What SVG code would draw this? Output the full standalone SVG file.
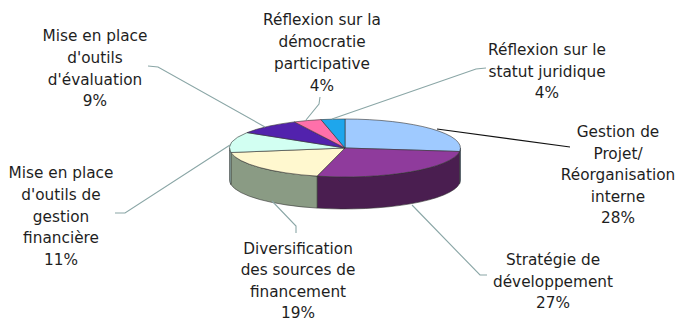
<svg xmlns="http://www.w3.org/2000/svg" width="677" height="322" viewBox="0 0 677 322">
<style>
text{font-family:"DejaVu Sans","Verdana",sans-serif;font-size:15.3px;fill:#1e1e1e;text-anchor:middle}
.sl{stroke:#333;stroke-width:0.6;stroke-linejoin:round}
.ld{fill:none;stroke:#8aa6a6;stroke-width:1.1}
.ldk{fill:none;stroke:#111;stroke-width:1.1}
</style>
<rect width="677" height="322" fill="#fff"/>
<g id="pie">
<path class="sl" fill="#5f8fc0" d="M460.5,148 A115.5,29 0 0 1 459.6,151.5 L459.6,183.5 A115.5,29 0 0 0 460.5,180 Z"/>
<path class="sl" fill="#4a1e50" d="M459.6,151.5 A115.5,29 0 0 1 317.1,176.1 L317.1,208.1 A115.5,29 0 0 0 459.6,183.5 Z"/>
<path class="sl" fill="#8a9b84" d="M317.1,176.1 A115.5,29 0 0 1 230.9,152.5 L230.9,184.5 A115.5,29 0 0 0 317.1,208.1 Z"/>
<path class="sl" fill="#9fc4bd" d="M230.9,152.5 A115.5,29 0 0 1 229.5,148 L229.5,180 A115.5,29 0 0 0 230.9,184.5 Z"/>
<path class="sl" fill="#9fcaff" d="M345,148 L345,119 A115.5,29 0 0 1 459.6,151.5 Z"/>
<path class="sl" fill="#8f3b9c" d="M345,148 L459.6,151.5 A115.5,29 0 0 1 317.1,176.1 Z"/>
<path class="sl" fill="#fff8cf" d="M345,148 L317.1,176.1 A115.5,29 0 0 1 230.9,152.5 Z"/>
<path class="sl" fill="#d2fff2" d="M345,148 L230.9,152.5 A115.5,29 0 0 1 247.1,132.6 Z"/>
<path class="sl" fill="#5222ad" d="M345,148 L247.1,132.6 A115.5,29 0 0 1 294.4,121.9 Z"/>
<path class="sl" fill="#ff70aa" d="M345,148 L294.4,121.9 A115.5,29 0 0 1 321,119.6 Z"/>
<path class="sl" fill="#1ea6ec" d="M345,148 L321,119.6 A115.5,29 0 0 1 345,119 Z"/>
</g>
<g id="connectors">
<polyline class="ld" points="148,66 158,67 265,127"/>
<polyline class="ld" points="320,97 319,104 306,120"/>
<polyline class="ld" points="486,68 476,69 332,119"/>
<polyline class="ldk" points="437,129 570,147"/>
<polyline class="ld" points="412,205 480,275 487,275"/>
<polyline class="ld" points="272,201 296,226 296,233"/>
<polyline class="ld" points="230,145 125,213 115,213"/>
</g>
<g id="label-evaluation">
<text x="95" y="41">Mise en place</text>
<text x="95" y="63">d'outils</text>
<text x="95" y="85">d'évaluation</text>
<text x="95" y="106">9%</text>
</g>
<g id="label-democratie">
<text x="322" y="25">Réflexion sur la</text>
<text x="322" y="47">démocratie</text>
<text x="322" y="69">participative</text>
<text x="322" y="91">4%</text>
</g>
<g id="label-statut">
<text x="547" y="55">Réflexion sur le</text>
<text x="547" y="77">statut juridique</text>
<text x="547" y="98">4%</text>
</g>
<g id="label-gestion-projet">
<text x="618" y="137">Gestion de</text>
<text x="618" y="159">Projet/</text>
<text x="618" y="180">Réorganisation</text>
<text x="618" y="202">interne</text>
<text x="618" y="223">28%</text>
</g>
<g id="label-strategie">
<text x="553" y="265">Stratégie de</text>
<text x="553" y="287">développement</text>
<text x="553" y="308">27%</text>
</g>
<g id="label-diversification">
<text x="298" y="254">Diversification</text>
<text x="298" y="275">des sources de</text>
<text x="298" y="296.5">financement</text>
<text x="298" y="317.5">19%</text>
</g>
<g id="label-gestion-financiere">
<text x="61" y="178">Mise en place</text>
<text x="61" y="200">d'outils de</text>
<text x="61" y="222">gestion</text>
<text x="61" y="243">financière</text>
<text x="61" y="265">11%</text>
</g>
</svg>
